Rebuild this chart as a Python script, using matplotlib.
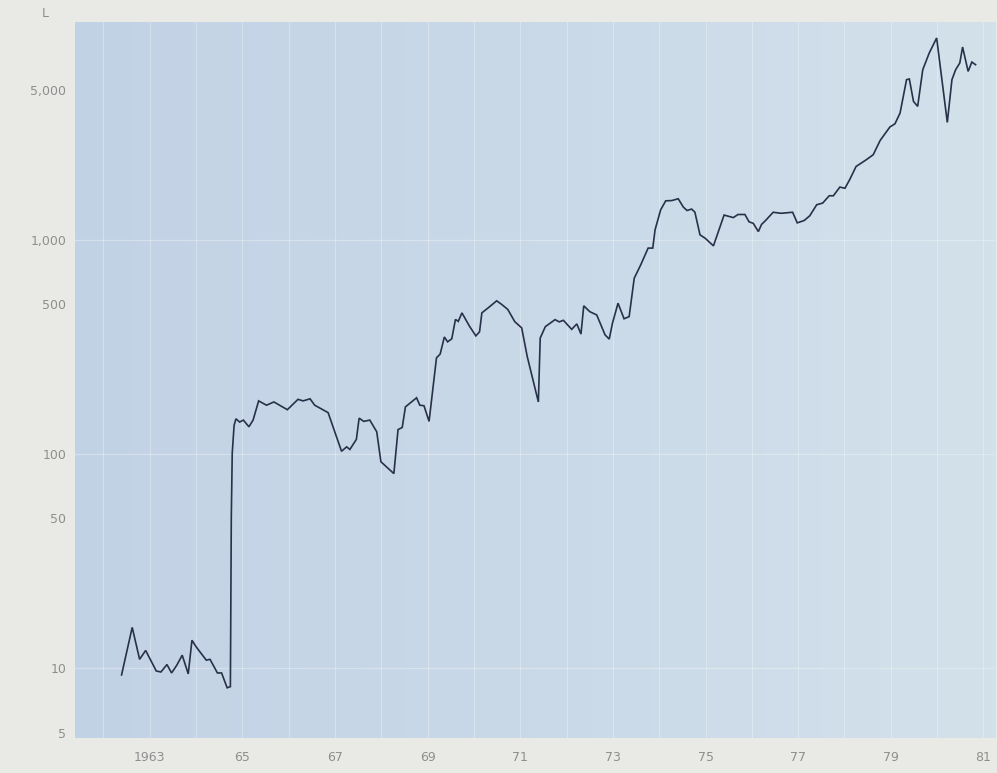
import matplotlib
matplotlib.use("Agg")
import matplotlib.pyplot as plt
import numpy as np
from matplotlib.colors import LinearSegmentedColormap
from matplotlib.ticker import FixedLocator, NullFormatter

# Index level (log scale), sampled through 1962-1980
dates = [
    1962.39, 1962.62, 1962.78, 1962.91, 1963.14, 1963.24, 1963.37, 1963.47,
    1963.58, 1963.70, 1963.83, 1963.91, 1964.01, 1964.22, 1964.30, 1964.46,
    1964.55, 1964.67, 1964.74, 1964.76, 1964.78, 1964.82, 1964.86, 1964.94,
    1965.02, 1965.14, 1965.23, 1965.35, 1965.52, 1965.68, 1965.97, 1966.20,
    1966.31, 1966.46, 1966.56, 1966.85, 1967.14, 1967.25, 1967.32, 1967.46,
    1967.52, 1967.62, 1967.75, 1967.90, 1967.99, 1968.27, 1968.36, 1968.45,
    1968.52, 1968.76, 1968.83, 1968.92, 1969.03, 1969.19, 1969.27, 1969.36,
    1969.43, 1969.52, 1969.60, 1969.66, 1969.74, 1969.90, 1970.04, 1970.12,
    1970.17, 1970.32, 1970.49, 1970.60, 1970.73, 1970.88, 1971.03, 1971.15,
    1971.39, 1971.43, 1971.54, 1971.75, 1971.84, 1971.93, 1972.11, 1972.22,
    1972.31, 1972.37, 1972.50, 1972.65, 1972.83, 1972.92, 1972.99, 1973.11,
    1973.24, 1973.35, 1973.46, 1973.60, 1973.76, 1973.86, 1973.91, 1974.03,
    1974.14, 1974.27, 1974.41, 1974.52, 1974.60, 1974.70, 1974.77, 1974.88,
    1974.99, 1975.17, 1975.40, 1975.60, 1975.70, 1975.85, 1975.94, 1976.03,
    1976.14, 1976.21, 1976.29, 1976.46, 1976.63, 1976.88, 1976.98, 1977.13,
    1977.25, 1977.40, 1977.53, 1977.67, 1977.76, 1977.90, 1978.01, 1978.11,
    1978.25, 1978.47, 1978.62, 1978.77, 1978.98, 1979.09, 1979.20, 1979.34,
    1979.40, 1979.49, 1979.58, 1979.69, 1979.83, 1979.99, 1980.22, 1980.32,
    1980.40, 1980.49, 1980.55, 1980.67, 1980.75, 1980.83,
]
values = [
    9.3, 15.5, 11.0, 12.1, 9.7, 9.6, 10.4, 9.5,
    10.3, 11.5, 9.4, 13.5, 12.5, 10.9, 11.0, 9.5,
    9.5, 8.1, 8.2, 51, 101, 136, 146, 141,
    144, 134, 144, 177, 169, 175, 161, 180,
    177, 181, 169, 156, 103, 108, 105, 117,
    147, 142, 144, 127, 92, 81, 130, 133,
    166, 183, 169, 168, 142, 281, 293, 352,
    334, 345, 425, 416, 456, 396, 356, 372,
    456, 484, 519, 499, 473, 415, 388, 285,
    175, 348, 393, 424, 414, 421, 382, 405,
    363, 492, 462, 446, 360, 344, 408, 506,
    428, 438, 662, 764, 915, 915, 1114, 1380,
    1521, 1525, 1555, 1422, 1371, 1392, 1346, 1055,
    1018, 937, 1305, 1270, 1313, 1313, 1213, 1194,
    1093, 1181, 1227, 1345, 1330, 1345, 1200, 1231,
    1295, 1458, 1485, 1606, 1606, 1763, 1741, 1906,
    2200, 2365, 2496, 2911, 3363, 3483, 3909, 5595,
    5636, 4429, 4198, 6227, 7454, 8759, 3533, 5595,
    6227, 6696, 7946, 6116, 6761, 6573,
]

y_ticks = [5, 10, 50, 100, 500, 1000, 5000]
y_labels = ["5", "10", "50", "100", "500", "1,000", "5,000"]
x_ticks = [1963, 1965, 1967, 1969, 1971, 1973, 1975, 1977, 1979, 1981]
x_labels = ["1963", "65", "67", "69", "71", "73", "75", "77", "79", "81"]
unit_label = "L"

paper = "#e9eae6"
ink = "#28304a"
label_grey = "#8d8f8f"

fig = plt.figure(figsize=(9.97, 7.73), dpi=100, facecolor=paper)
ax = fig.add_axes([0.075, 0.045, 0.923, 0.927])
ax.set_facecolor("#c8d7e6")

# panel tint, slightly deeper blue on the left fading lighter to the right
panel_cmap = LinearSegmentedColormap.from_list(
    "panel", ["#c2d2e5", "#cad9e8", "#d2e1ea"])
ramp = np.linspace(0, 1, 256).reshape(1, -1)
ax.imshow(ramp, cmap=panel_cmap, aspect="auto", extent=[0, 1, 0, 1],
          transform=ax.transAxes, zorder=0, interpolation="bilinear")

ax.plot(dates, values, color=ink, lw=1.2, solid_joinstyle="miter", zorder=3)

ax.set_yscale("log")
ax.set_ylim(4.71, 10440)
ax.set_xlim(1961.38, 1981.25)

ax.yaxis.set_major_locator(FixedLocator(y_ticks))
ax.set_yticklabels(y_labels)
ax.yaxis.set_minor_formatter(NullFormatter())
ax.yaxis.set_minor_locator(FixedLocator([]))
ax.set_xticks(x_ticks)
ax.set_xticklabels(x_labels)
ax.xaxis.set_minor_locator(FixedLocator(list(range(1962, 1982))))

# faint white ruling: every year vertically, decades horizontally
ax.grid(which="both", axis="x", color="white", lw=0.8, alpha=0.3, zorder=1)
for v in (10, 100, 1000):
    ax.axhline(v, color="white", lw=0.9, alpha=0.3, zorder=1)
ax.set_axisbelow(False)

ax.tick_params(axis="both", which="both", length=0, colors=label_grey,
               labelsize=9)
ax.tick_params(axis="x", pad=9)
ax.tick_params(axis="y", pad=6)
for s in ax.spines.values():
    s.set_visible(False)

fig.text(0.045, 0.982, unit_label, color=label_grey, fontsize=9,
         ha="center", va="center")

fig.savefig("out.png", dpi=100, facecolor=paper)
